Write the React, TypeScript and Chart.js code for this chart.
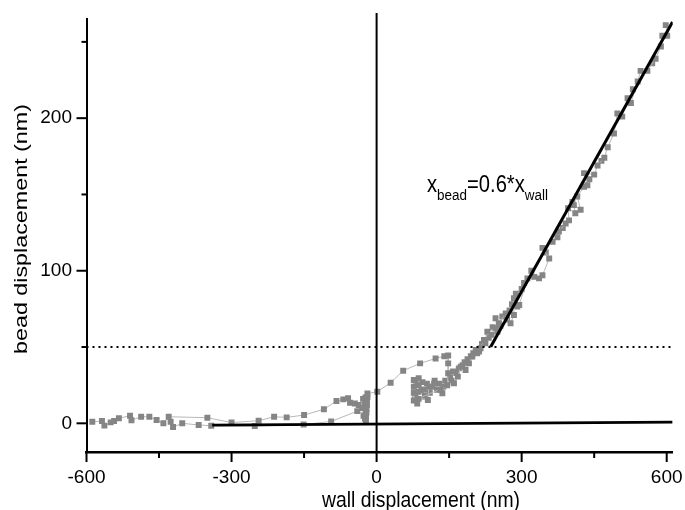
import React, { useEffect, useRef } from 'react';
import { Chart, registerables } from 'chart.js';
Chart.register(...registerables);

// Main measured path (wall displacement nm, bead displacement nm)
const wallX = [
  -588, -568, -563, -550, -543, -533, -510, -507, -487, -470, -455, -441, -430,
  -350, -300, -244, -212, -186, -150, -109, -83, -69, -59, -55, -45, -37, -30,
  -25, -24, -22, -22, -21, -21, -20, -20, -19, -19,
  1.4, 29, 55, 90, 122, 140, 148,
  148, 148, 146, 136, 132, 119, 108, 106, 87, 87, 87, 87, 77, 77, 77, 77,
  160, 168, 174, 184, 191, 198, 208, 215, 222, 225, 229, 246, 250, 246, 253, 267,
  277, 284, 284, 288, 291, 295, 312, 326, 336, 343, 357, 343, 364, 374, 377, 391,
  398, 396, 411, 408, 422, 415, 429, 436, 429, 450, 457, 471, 478, 491, 498, 508,
  519, 526, 540, 546, 560, 577, 588, 591, 601, 598,
];
const beadY = [
  1, 1.5, -1.5, 0.6, 1.5, 3.3, 5, 2, 4.3, 4.3, 2.2, 0, 4.3,
  3.7, 0.5, 1.7, 4.3, 3.9, 5.4, 9.2, 14.6, 15.7, 16.4, 13.5, 13, 12, 10,
  10, 14, 2, 4.5, 7, 9.5, 12, 14.5, 17, 19.5,
  20.7, 26.6, 34.5, 39.3, 42.5, 44, 44.5,
  39.3, 32.8, 25, 19.7, 22, 26, 24, 15.3, 16, 20.6, 25, 29.5, 28.4, 24, 20, 15,
  26.2, 30.6, 37.1, 35, 39.3, 43.7, 45.9, 49.2, 54.6, 52.5, 60, 62.3, 60, 68.9, 65.6, 72,
  65.6, 71, 82, 85, 76.5, 77.6, 95, 96, 95, 97, 108, 115, 119, 122, 125.7, 131,
  133, 141, 137.7, 143, 140, 148.6, 155, 156, 164, 163, 169, 174, 181, 190, 203, 201,
  213, 210, 224, 231, 231, 239, 247, 254, 254, 261,
];
// Lower return branch
const lowerX = [-426, -421, -402, -368, -342, -252, -151, -94, -40, -23];
const lowerY = [1, -2.4, 0, -1.1, -1.6, -1.8, -0.8, 1.2, 8, 6];
// Dense scatter inside the transition band
const bandX = [
  -28, -27, -24, -23, 80, 82, 84, 92, 95, 98, 100, 104, 110, 115, 120, 125, 130, 138, 142,
  152, 155, 158, 165, 170, 178, 182, 188, 195, 200, 205, 212, 218,
  232, 238, 240, 256, 260, 270, 275, 280, 300, 305, 320, 350, 385, 405, 440, 465, 530, 570,
];
const bandY = [
  16, 5, 3, 17, 18, 26, 13, 22, 27, 22, 18, 26, 20, 24, 28, 22, 26, 24, 28,
  30, 28, 34, 33, 36, 38, 40, 42, 44, 46, 48, 47, 52,
  56, 58, 63, 64, 70, 68, 74, 78, 88, 92, 100, 112, 128, 145, 160, 172, 219, 236,
];

// Linear fit x_bead = 0.6 * x_wall
const fitX = [236, 612];
const fitY = [50.2, 263];
// Baseline through zero
const baseX = [-340, 612];
const baseY = [-1.2, 0.8];
// Dotted threshold line
const thresholdX = [-600, 612.4];
const thresholdY = [50, 50];
// Vertical line at zero wall displacement
const zeroX = [0, 0];
const zeroY = [-18.8, 269];

const xTickValues = [-600, -450, -300, -150, 0, 150, 300, 450, 600];
const xTickLabels = ['-600', '', '-300', '', '0', '', '300', '', '600'];
const yTickValues = [0, 50, 100, 150, 200, 250];
const yTickLabels = ['0', '', '100', '', '200', ''];

const xTitle = 'wall displacement (nm)';
const yTitle = 'bead displacement (nm)';

const FONT = '"Liberation Sans", Arial, sans-serif';

const pts = (xs: number[], ys: number[]) => xs.map((x, i) => ({ x, y: ys[i] }));

const decorPlugin = {
  id: 'decor',
  afterDraw(chart: any) {
    const ctx = chart.ctx as CanvasRenderingContext2D;
    const xs = chart.scales.x;
    const ys = chart.scales.y;
    const ca = chart.chartArea;
    ctx.save();
    ctx.strokeStyle = '#000';
    ctx.lineWidth = 2;
    xTickValues.forEach((v, i) => {
      const px = xs.getPixelForValue(v);
      const len = xTickLabels[i] ? 10 : 6;
      ctx.beginPath();
      ctx.moveTo(px, ca.bottom);
      ctx.lineTo(px, ca.bottom + len);
      ctx.stroke();
    });
    yTickValues.forEach((v, i) => {
      const py = ys.getPixelForValue(v);
      const len = yTickLabels[i] ? 10 : 5;
      ctx.beginPath();
      ctx.moveTo(ca.left, py);
      ctx.lineTo(ca.left - len, py);
      ctx.stroke();
    });

    ctx.fillStyle = '#000';
    // x title
    ctx.font = `19px ${FONT}`;
    ctx.textBaseline = 'alphabetic';
    ctx.textAlign = 'left';
    let w = ctx.measureText(xTitle).width;
    ctx.save();
    ctx.translate(322, 507);
    ctx.scale(198 / w, 1.12);
    ctx.fillText(xTitle, 0, 0);
    ctx.restore();

    // y title
    ctx.font = `19px ${FONT}`;
    w = ctx.measureText(yTitle).width;
    ctx.save();
    ctx.translate(27, 229);
    ctx.rotate(-Math.PI / 2);
    ctx.scale(250 / w, 1);
    ctx.textAlign = 'center';
    ctx.fillText(yTitle, 0, 0);
    ctx.restore();

    // annotation x_bead=0.6*x_wall
    const parts = [
      { t: 'x', f: 21, dy: 0 },
      { t: 'bead', f: 14, dy: 7 },
      { t: '=0.6*x', f: 21, dy: 0 },
      { t: 'wall', f: 14, dy: 7 },
    ];
    let total = 0;
    parts.forEach((p) => {
      ctx.font = `${p.f}px ${FONT}`;
      total += ctx.measureText(p.t).width;
    });
    const sx = 121 / total;
    ctx.save();
    ctx.translate(427, 192);
    ctx.scale(sx, 1.1);
    let cx = 0;
    parts.forEach((p) => {
      ctx.font = `${p.f}px ${FONT}`;
      ctx.fillText(p.t, cx, p.dy);
      cx += ctx.measureText(p.t).width;
    });
    ctx.restore();
    ctx.restore();
  },
};

export default function App() {
  const ref = useRef<HTMLCanvasElement>(null);
  useEffect(() => {
    if (!ref.current) return;
    const gray = {
      showLine: true,
      borderColor: '#b8b8b8',
      borderWidth: 1,
      pointStyle: 'rect',
      pointRadius: 4.2,
      pointBackgroundColor: '#858585',
      pointBorderWidth: 0,
      pointBorderColor: '#858585',
    };
    const black = (w: number) => ({
      showLine: true,
      borderColor: '#000',
      borderWidth: w,
      pointRadius: 0,
    });
    const chart = new Chart(ref.current, {
      type: 'scatter',
      data: {
        datasets: [
          { label: 'upper', data: pts(wallX, beadY), ...gray, order: 3 } as any,
          { label: 'lower', data: pts(lowerX, lowerY), ...gray, order: 3 } as any,
          { label: 'band', data: pts(bandX, bandY), ...gray, showLine: false, order: 3 } as any,
          { label: 'fit', data: pts(fitX, fitY), ...black(3), order: 1 },
          { label: 'base', data: pts(baseX, baseY), ...black(2.6), order: 1 },
          { label: 'threshold', data: pts(thresholdX, thresholdY), ...black(2), borderDash: [2, 4], order: 1 },
          { label: 'zero', data: pts(zeroX, zeroY), ...black(2), clip: false as any, order: 1 },
        ],
      },
      options: {
        responsive: false,
        animation: false,
        layout: { padding: { top: 19, right: 12.3, left: 0, bottom: 0 } },
        plugins: { legend: { display: false }, tooltip: { enabled: false } },
        scales: {
          x: {
            type: 'linear',
            min: -600,
            max: 612.4,
            grid: { display: false, drawTicks: false },
            border: { display: true, color: '#000', width: 2.5 },
            afterBuildTicks: (s: any) => { s.ticks = xTickValues.map((value) => ({ value })); },
            afterFit: (s: any) => {
              s.height = 58;
              s.paddingLeft = 0; s.paddingRight = 0; s.paddingTop = 0; s.paddingBottom = 0;
            },
            ticks: {
              autoSkip: false,
              maxRotation: 0,
              padding: 14,
              color: '#000',
              font: { family: FONT, size: 19 },
              callback: (_v: any, i: number) => xTickLabels[i],
            },
          },
          y: {
            type: 'linear',
            min: -18.8,
            max: 265,
            grid: { display: false, drawTicks: false },
            border: { display: true, color: '#000', width: 2 },
            afterBuildTicks: (s: any) => { s.ticks = yTickValues.map((value) => ({ value })); },
            afterFit: (s: any) => {
              s.width = 86.5;
              s.paddingLeft = 0; s.paddingRight = 0; s.paddingTop = 0; s.paddingBottom = 0;
            },
            ticks: {
              autoSkip: false,
              padding: 14.5,
              color: '#000',
              font: { family: FONT, size: 19 },
              callback: (_v: any, i: number) => yTickLabels[i],
            },
          },
        },
      },
      plugins: [decorPlugin],
    });
    return () => chart.destroy();
  }, []);
  return (
    <div style={{ position: 'fixed', left: 0, top: 0, width: 685, height: 510, background: '#fff' }}>
      <canvas ref={ref} width={685} height={510} style={{ display: 'block' }} />
    </div>
  );
}
